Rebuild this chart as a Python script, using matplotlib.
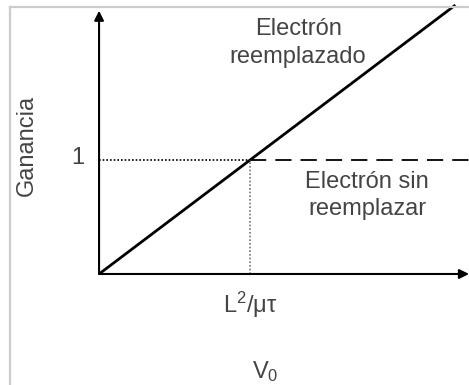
import matplotlib.pyplot as plt
from matplotlib.lines import Line2D

plt.rcParams['font.family'] = ['Liberation Sans', 'DejaVu Sans']
plt.rcParams['mathtext.fontset'] = 'custom'
plt.rcParams['mathtext.rm'] = 'Liberation Sans'
plt.rcParams['mathtext.it'] = 'Liberation Sans'

# gain vs. bias voltage, in units of the transit threshold L^2/(mu*tau)
v_line = [0.0, 2.36]
gain_line = [0.0, 2.36]
v_threshold = 1.0
gain_unity = 1.0
v_max = 2.45

text_color = '#444444'
fs = 17

fig = plt.figure(figsize=(4.69, 3.85), dpi=100)
ax = fig.add_axes([0, 0, 1, 1])
ax.set_xlim(-0.656, 2.450)
ax.set_ylim(-0.974, 2.404)
ax.axis('off')

# outer frame (top and left edges only)
fig.add_artist(Line2D([10 / 469, 10 / 469], [0, 1 - 7 / 385],
                      color='#cccccc', lw=1.6, transform=fig.transFigure))
fig.add_artist(Line2D([10 / 469, 1], [1 - 7 / 385, 1 - 7 / 385],
                      color='#cccccc', lw=1.6, transform=fig.transFigure))

# axes with arrow heads
arrow = dict(arrowstyle='-|>', color='black', lw=1.5,
             mutation_scale=14, shrinkA=0, shrinkB=0)
ax.annotate('', xy=(0, 2.31), xytext=(0, 0), arrowprops=arrow)
ax.annotate('', xy=(v_max, 0), xytext=(0, 0), arrowprops=arrow)

# replaced electron: linear gain
ax.plot(v_line, gain_line, color='black', lw=2.0, solid_capstyle='butt')

# unreplaced electron: saturates at unity
ax.plot([v_threshold, v_max], [gain_unity, gain_unity], color='black',
        lw=1.3, dashes=(9, 5))

# guide lines to the threshold
ax.plot([0, v_threshold], [gain_unity, gain_unity], color='black',
        lw=1.2, dashes=(1, 1.2))
ax.plot([v_threshold, v_threshold], [0, gain_unity], color='#777777',
        lw=1.2, dashes=(1, 1.2))

ax.text(1.318, 2.03, 'Electrón\nreemplazado', ha='center', va='center',
        fontsize=fs, color=text_color, linespacing=1.35)
ax.text(1.775, 0.69, 'Electrón sin\nreemplazar', ha='center', va='center',
        fontsize=fs, color=text_color, linespacing=1.3)
ax.text(-0.14, gain_unity + 0.02, '1', ha='center', va='center',
        fontsize=fs, color=text_color)
ax.text(-0.475, 1.13, 'Ganancia', ha='center', va='center', rotation=90,
        fontsize=fs, color=text_color)
ax.text(v_threshold, -0.27, r'L$^\mathregular{2}$/μτ', ha='center',
        va='center', fontsize=fs, color=text_color)
ax.text(1.1, -0.86, r'V$_\mathregular{0}$', ha='center', va='center',
        fontsize=fs, color=text_color)

fig.savefig('out.png', dpi=100)
